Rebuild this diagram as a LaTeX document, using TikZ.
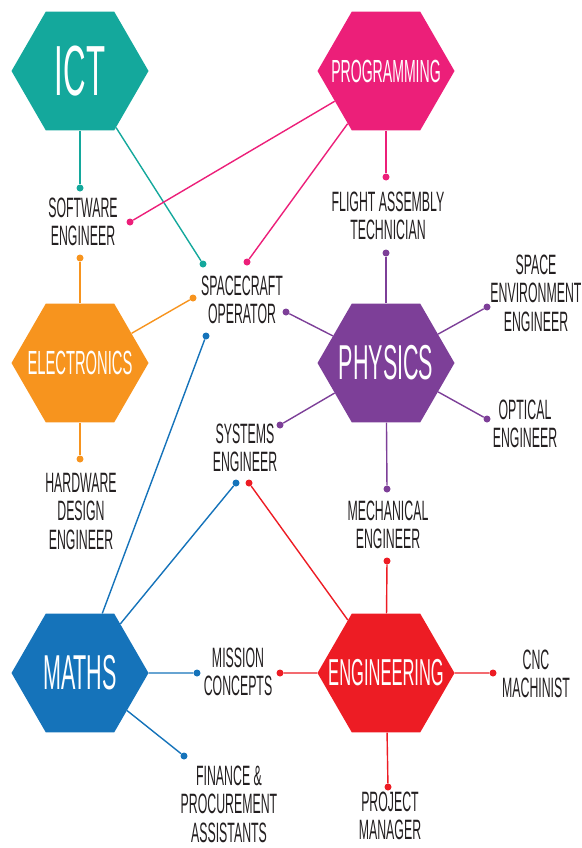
\documentclass[tikz,border=0pt]{standalone}
\usepackage{fontspec}
\setmainfont{Liberation Sans}[FakeStretch=0.44]
\usepackage{tikz}
\usetikzlibrary{shapes.geometric, positioning}
\definecolor{ictcol}{HTML}{14A89C}
\definecolor{progcol}{HTML}{EC1F79}
\definecolor{eleccol}{HTML}{F7941E}
\definecolor{physcol}{HTML}{7D3F98}
\definecolor{mathcol}{HTML}{1573BA}
\definecolor{engcol}{HTML}{ED1C24}
\definecolor{textgray}{HTML}{231F20}
\newcommand{\subj}[1]{\makebox[0pt]{#1}}
\tikzstyle{hexa} = [regular polygon, regular polygon sides=6, minimum size=137pt, inner sep=0pt, text=white]
\tikzstyle{dot} = [circle, inner sep=0pt, minimum size=7pt]
\tikzstyle{job} = [align=center, text=textgray, inner sep=0pt, font=\fontsize{28}{28.5}\selectfont]
\tikzstyle{link} = [line width=1.4pt]

\begin{document}
\begin{tikzpicture}[x=1pt, y=-1pt]
\useasboundingbox (0,0) rectangle (581,848);

% Subjects
\node (ict) [hexa, fill=ictcol, font=\fontsize{71}{71}\selectfont] at (80,71) {\subj{ICT}};
\node (prog) [hexa, fill=progcol, font=\fontsize{32}{32}\selectfont] at (386,71) {\subj{PROGRAMMING}};
\node (elec) [hexa, fill=eleccol, font=\fontsize{33.5}{33.5}\selectfont] at (80,363) {\subj{ELECTRONICS}};
\node (phys) [hexa, fill=physcol, font=\fontsize{49}{49}\selectfont] at (386,363) {\subj{PHYSICS}};
\node (maths) [hexa, fill=mathcol, font=\fontsize{49}{49}\selectfont] at (80,673) {\subj{MATHS}};
\node (eng) [hexa, fill=engcol, font=\fontsize{37.5}{37.5}\selectfont] at (386,673) {\subj{ENGINEERING}};

% Jobs
\node (software) [job] at (83,222) {SOFTWARE\\ENGINEER};
\node (spacecraft) [job] at (242,300) {SPACECRAFT\\OPERATOR};
\node (flight) [job] at (388,216) {FLIGHT ASSEMBLY\\TECHNICIAN};
\node (environment) [job] at (536,293) {SPACE\\ENVIRONMENT\\ENGINEER};
\node (optical) [job] at (525,424) {OPTICAL\\ENGINEER};
\node (systems) [job] at (245,448) {SYSTEMS\\ENGINEER};
\node (hardware) [job] at (81,511) {HARDWARE\\DESIGN\\ENGINEER};
\node (mechanical) [job] at (388,525) {MECHANICAL\\ENGINEER};
\node (mission) [job] at (238,672) {MISSION\\CONCEPTS};
\node (cnc) [job] at (536,674) {CNC\\MACHINIST};
\node (finance) [job] at (229,804) {FINANCE \&\\PROCUREMENT\\ASSISTANTS};
\node (project) [job] at (390,816) {PROJECT\\MANAGER};

% Dots
\node (ictSoftware) [dot, fill=ictcol] at (80,188) {};
\node (ictSpacecraft) [dot, fill=ictcol] at (203,264) {};
\node (progSoftware) [dot, fill=progcol] at (130,222) {};
\node (progSpacecraft) [dot, fill=progcol] at (247,262) {};
\node (progFlight) [dot, fill=progcol] at (386,177) {};
\node (elecSoftware) [dot, fill=eleccol] at (80,258) {};
\node (elecSpacecraft) [dot, fill=eleccol] at (193,298) {};
\node (elecHardware) [dot, fill=eleccol] at (80,459) {};
\node (physFlight) [dot, fill=physcol] at (386,253) {};
\node (physSpacecraft) [dot, fill=physcol] at (286,312) {};
\node (physEnvironment) [dot, fill=physcol] at (487,307) {};
\node (physOptical) [dot, fill=physcol] at (487,419) {};
\node (physSystems) [dot, fill=physcol] at (280,425) {};
\node (physMechanical) [dot, fill=physcol] at (387,489) {};
\node (mathsSpacecraft) [dot, fill=mathcol] at (206,336) {};
\node (mathsSystems) [dot, fill=mathcol] at (236,483) {};
\node (mathsMission) [dot, fill=mathcol] at (197,673) {};
\node (mathsFinance) [dot, fill=mathcol] at (184,756) {};
\node (engSystems) [dot, fill=engcol] at (249,483) {};
\node (engMechanical) [dot, fill=engcol] at (387,561) {};
\node (engMission) [dot, fill=engcol] at (280,673) {};
\node (engCnc) [dot, fill=engcol] at (493,673) {};
\node (engProject) [dot, fill=engcol] at (388,787) {};

% Links
\draw [link, ictcol] (ict) -- (ictSoftware);
\draw [link, ictcol] (ict) -- (ictSpacecraft);
\draw [link, progcol] (prog) -- (progSoftware);
\draw [link, progcol] (prog) -- (progSpacecraft);
\draw [link, progcol] (prog) -- (progFlight);
\draw [link, eleccol] (elec) -- (elecSoftware);
\draw [link, eleccol] (elec) -- (elecSpacecraft);
\draw [link, eleccol] (elec) -- (elecHardware);
\draw [link, physcol] (phys) -- (physFlight);
\draw [link, physcol] (phys) -- (physSpacecraft);
\draw [link, physcol] (phys) -- (physEnvironment);
\draw [link, physcol] (phys) -- (physOptical);
\draw [link, physcol] (phys) -- (physSystems);
\draw [link, physcol] (phys) -- (physMechanical);
\draw [link, mathcol] (maths) -- (mathsSpacecraft);
\draw [link, mathcol] (maths) -- (mathsSystems);
\draw [link, mathcol] (maths) -- (mathsMission);
\draw [link, mathcol] (maths) -- (mathsFinance);
\draw [link, engcol] (eng) -- (engSystems);
\draw [link, engcol] (eng) -- (engMechanical);
\draw [link, engcol] (eng) -- (engMission);
\draw [link, engcol] (eng) -- (engCnc);
\draw [link, engcol] (eng) -- (engProject);

\end{tikzpicture}
\end{document}
